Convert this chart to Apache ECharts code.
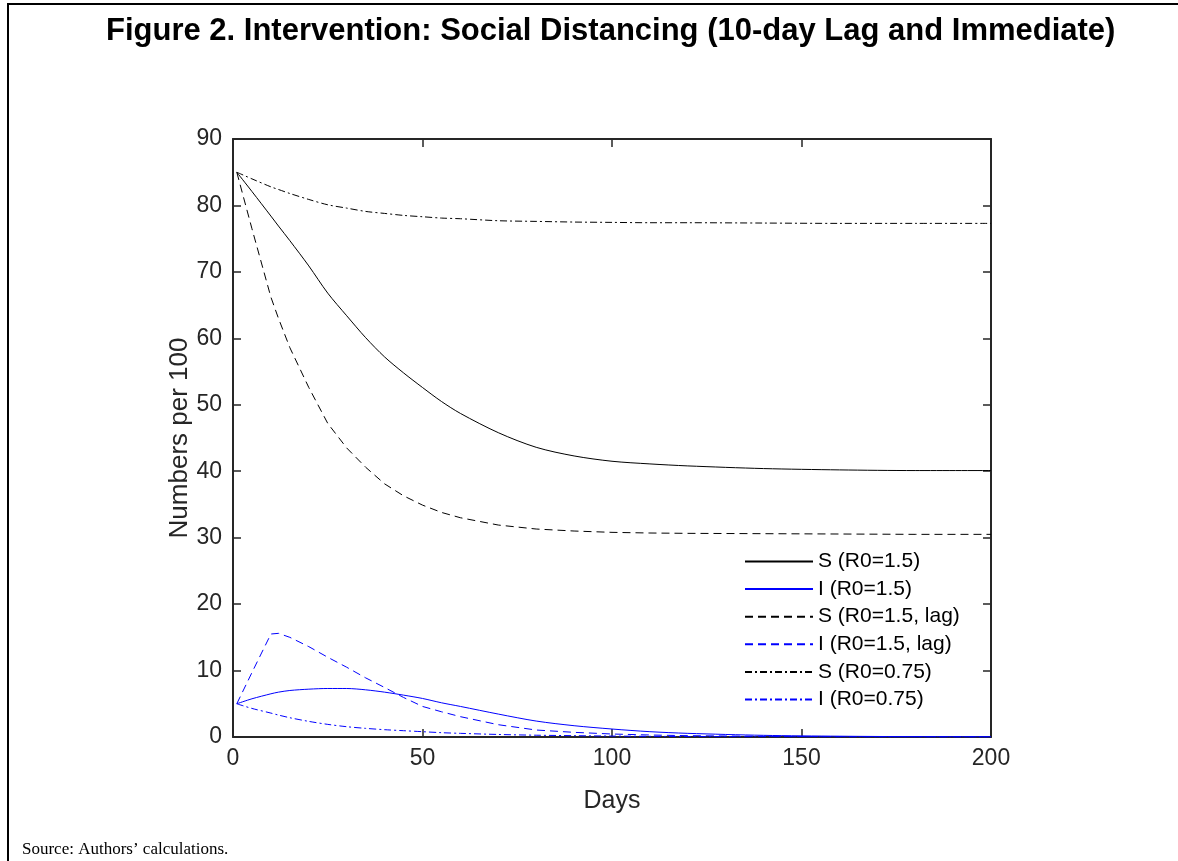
<!DOCTYPE html>
<html>
<head>
<meta charset="utf-8">
<script src="https://cdn.jsdelivr.net/npm/echarts@6/dist/echarts.min.js"></script>
<style>
  html, body { margin: 0; padding: 0; background: #fff; }
  #chart { width: 1178px; height: 861px; }
</style>
</head>
<body>
<div id="chart"></div>
<script>
// days sampled off the figure
const days = [1, 5, 10, 12, 15, 20, 25, 30, 35, 40, 45, 50, 55, 60, 70, 80, 90, 100, 110, 120, 140, 160, 180, 200]

// susceptible / infected, numbers per 100
const sR15 =    [85, 82.1, 78.4, 76.9, 74.7, 70.9, 66.8, 63.4, 60.1, 57.2, 54.8, 52.6, 50.5, 48.7, 45.8, 43.6, 42.3, 41.5, 41.1, 40.8, 40.4, 40.2, 40.1, 40.1]
const iR15 =    [5.0, 5.75, 6.5, 6.75, 7.0, 7.2, 7.3, 7.3, 7.1, 6.75, 6.3, 5.8, 5.15, 4.6, 3.45, 2.4, 1.7, 1.2, 0.8, 0.55, 0.25, 0.12, 0.05, 0.03]
const sR15lag = [85, 76.5, 66.2, 63.0, 58.6, 52.6, 47.2, 43.5, 40.6, 38.1, 36.3, 34.9, 33.8, 33.0, 31.9, 31.3, 31.0, 30.8, 30.7, 30.65, 30.6, 30.55, 30.5, 30.5]
const iR15lag = [5.0, 9.7, 15.5, 15.6, 15.0, 13.6, 12.0, 10.5, 8.9, 7.45, 5.95, 4.6, 3.8, 3.06, 1.85, 1.05, 0.7, 0.45, 0.3, 0.2, 0.1, 0.05, 0.03, 0.02]
const sR075 =   [85, 84.0, 82.8, 82.4, 81.8, 80.9, 80.1, 79.6, 79.1, 78.8, 78.5, 78.3, 78.1, 78.0, 77.7, 77.6, 77.5, 77.45, 77.4, 77.4, 77.35, 77.3, 77.3, 77.3]
const iR075 =   [5.0, 4.3, 3.6, 3.3, 2.9, 2.35, 1.9, 1.55, 1.3, 1.1, 0.95, 0.8, 0.65, 0.55, 0.38, 0.27, 0.2, 0.14, 0.1, 0.07, 0.04, 0.02, 0.01, 0.01]

const xTicks = [0, 50, 100, 150, 200]
const yTicks = [0, 10, 20, 30, 40, 50, 60, 70, 80, 90]

const FONT = 'Liberation Sans, Arial, sans-serif'
const AXIS_COLOR = '#262626'
const DASH = [8, 5]
const DASH_DOT = [7, 3, 2, 3]

const pairs = vals => days.map((d, k) => [d, vals[k]])

// smooth = 0 keeps the sharp kink at the day-10 switch on the lag runs
function lineSeries(name, vals, color, type, smooth) {
  return {
    name: name,
    type: 'line',
    data: pairs(vals),
    symbol: 'none',
    smooth: smooth,
    lineStyle: { color: color, width: 1, type: type },
    itemStyle: { color: color },
    emphasis: { disabled: true },
    z: 3
  }
}

const chart = echarts.init(document.getElementById('chart'), null, { renderer: 'canvas' })

// box axes (matlab style): line + inward ticks, no zero snapping
const frameAxis = {
  axisLine: { show: true, onZero: false, lineStyle: { color: AXIS_COLOR, width: 2 } },
  axisTick: { show: true, inside: true, length: 8, lineStyle: { color: AXIS_COLOR, width: 1.5 } },
  splitLine: { show: false }
}

chart.setOption({
  animation: false,
  backgroundColor: '#fff',
  title: {
    text: 'Figure 2. Intervention: Social Distancing (10-day Lag and Immediate)',
    left: 106,
    top: 16,
    padding: 0,
    textStyle: { fontFamily: FONT, fontWeight: 'bold', fontSize: 31, color: '#000' }
  },
  grid: { left: 233, right: 187, top: 139, bottom: 124 },
  legend: {
    orient: 'vertical',
    left: 744,
    top: 551,
    padding: 0,
    itemWidth: 68,
    itemHeight: 20,
    itemGap: 6.6,
    itemStyle: { opacity: 0 },
    textStyle: { fontFamily: FONT, fontSize: 21, color: '#000' },
    selectedMode: false
  },
  xAxis: [
    Object.assign({
      type: 'value', position: 'bottom', min: xTicks[0], max: xTicks[xTicks.length - 1], interval: 50,
      name: 'Days', nameLocation: 'middle', nameGap: 52,
      nameTextStyle: { fontFamily: FONT, fontSize: 25, color: AXIS_COLOR },
      axisLabel: { fontFamily: FONT, fontSize: 23, color: AXIS_COLOR, margin: 10 }
    }, frameAxis),
    Object.assign({
      type: 'value', position: 'top', min: xTicks[0], max: xTicks[xTicks.length - 1], interval: 50,
      axisLabel: { show: false }
    }, frameAxis)
  ],
  yAxis: [
    Object.assign({
      type: 'value', position: 'left', min: yTicks[0], max: yTicks[yTicks.length - 1], interval: 10,
      name: 'Numbers per 100', nameLocation: 'middle', nameGap: 40, nameMoveOverlap: false,
      nameTextStyle: { fontFamily: FONT, fontSize: 26, color: AXIS_COLOR },
      axisLabel: { fontFamily: FONT, fontSize: 23, color: AXIS_COLOR, margin: 11 }
    }, frameAxis),
    Object.assign({
      type: 'value', position: 'right', min: yTicks[0], max: yTicks[yTicks.length - 1], interval: 10,
      axisLabel: { show: false }
    }, frameAxis)
  ],
  series: [
    lineSeries('S (R0=1.5)', sR15, '#000000', 'solid', 0.3),
    lineSeries('I (R0=1.5)', iR15, '#0000ff', 'solid', 0.3),
    lineSeries('S (R0=1.5, lag)', sR15lag, '#000000', DASH, 0),
    lineSeries('I (R0=1.5, lag)', iR15lag, '#0000ff', DASH, 0),
    lineSeries('S (R0=0.75)', sR075, '#000000', DASH_DOT, 0.3),
    lineSeries('I (R0=0.75)', iR075, '#0000ff', DASH_DOT, 0.3)
  ],
  graphic: [
    {
      type: 'polyline',
      shape: { points: [[8, 861], [8, 4], [1178, 4]] },
      style: { stroke: '#000', lineWidth: 2, fill: null },
      silent: true
    },
    {
      type: 'text',
      left: 22,
      top: 841,
      style: { text: 'Source: Authors\u2019 calculations.', font: '17px "Liberation Serif", "Times New Roman", serif', fill: '#000' },
      silent: true
    }
  ]
})
</script>
</body>
</html>
